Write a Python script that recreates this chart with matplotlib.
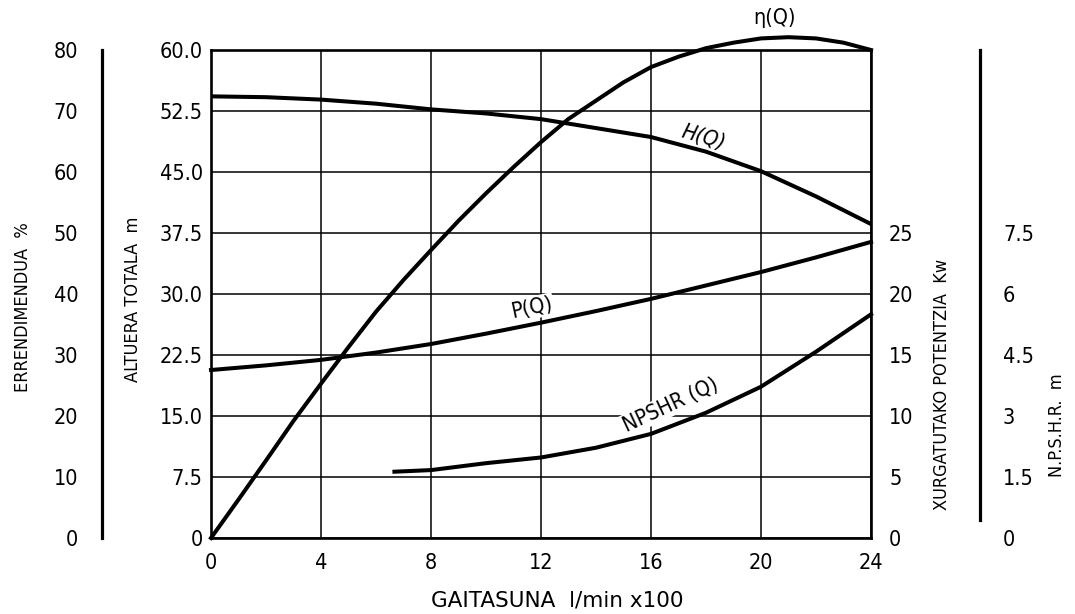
import numpy as np
import matplotlib
matplotlib.use("Agg")
import matplotlib.pyplot as plt

plt.rcParams['font.family'] = ['DejaVu Sans']
plt.rcParams['font.stretch'] = 'condensed'

# flow Q (l/min x100)
q_h = [0, 2, 4, 6, 8, 10, 12, 14, 16, 18, 20, 22, 24]
head = [54.3, 54.2, 53.9, 53.4, 52.7, 52.2, 51.5, 50.4, 49.3, 47.5, 45.1, 42.0, 38.6]

q_eta = list(range(0, 25))
eta = [0, 6.3, 12.7, 19.2, 25.3, 31.3, 37.1, 42.3, 47.2, 52.0, 56.5, 60.8, 64.9,
       68.7, 71.7, 74.7, 77.2, 78.9, 80.3, 81.2, 81.9, 82.1, 81.9, 81.2, 80.0]

q_p = [0, 2, 4, 6, 8, 10, 12, 14, 16, 18, 20, 22, 24]
power = [13.77, 14.15, 14.6, 15.2, 15.9, 16.75, 17.65, 18.6, 19.6, 20.7, 21.8, 23.0, 24.27]

q_n = [6.67, 8, 10, 12, 14, 16, 18, 20, 22, 24]
npsh = [1.63, 1.67, 1.84, 1.98, 2.22, 2.56, 3.08, 3.72, 4.58, 5.5]

x_ticks = [0, 4, 8, 12, 16, 20, 24]
h_ticks = [0, 7.5, 15, 22.5, 30, 37.5, 45, 52.5, 60]
h_labels = ["0", "7.5", "15.0", "22.5", "30.0", "37.5", "45.0", "52.5", "60.0"]
eta_ticks = [0, 10, 20, 30, 40, 50, 60, 70, 80]
p_ticks = [0, 5, 10, 15, 20, 25]
n_ticks = [0, 1.5, 3, 4.5, 6, 7.5]
n_labels = ["0", "1.5", "3", "4.5", "6", "7.5"]

W, H = 1075, 614
fig = plt.figure(figsize=(W / 100, H / 100), dpi=100)
x0, x1, y0, y1 = 211, 871, 50, 538
ax = fig.add_axes([x0 / W, 1 - y1 / H, (x1 - x0) / W, (y1 - y0) / H])

fs = 15.5
lw_curve = 2.9

ax.set_xlim(0, 24)
ax.set_ylim(0, 60)
ax.set_xticks(x_ticks)
ax.set_yticks(h_ticks)
ax.set_yticklabels(h_labels)
ax.grid(True, color='black', lw=1.1)
ax.tick_params(length=0, labelsize=fs)
ax.tick_params(axis='y', pad=6)
ax.tick_params(axis='x', pad=11)
for s in ax.spines.values():
    s.set_linewidth(1.9)
ax.plot(q_h, head, color='black', lw=lw_curve, solid_capstyle='butt', clip_on=False, zorder=4)

# efficiency axis (left)
ax_eta = ax.twinx()
ax_eta.set_ylim(0, 80)
for k in ['top', 'bottom', 'right']:
    ax_eta.spines[k].set_visible(False)
ax_eta.spines['left'].set_position(('axes', (102 - x0) / (x1 - x0)))
ax_eta.spines['left'].set_linewidth(2.3)
ax_eta.yaxis.set_ticks_position('left')
ax_eta.yaxis.set_label_position('left')
ax_eta.set_yticks(eta_ticks)
ax_eta.tick_params(length=0, labelsize=fs, pad=17)
ax_eta.plot(q_eta, eta, color='black', lw=lw_curve, clip_on=False, zorder=4)

# power axis (right)
ax_p = ax.twinx()
ax_p.set_ylim(0, 40)
for s in ax_p.spines.values():
    s.set_visible(False)
ax_p.set_yticks(p_ticks)
ax_p.tick_params(length=0, labelsize=fs, pad=13)
ax_p.plot(q_p, power, color='black', lw=lw_curve, clip_on=False, zorder=4)

# NPSHR axis (far right)
ax_n = ax.twinx()
ax_n.set_ylim(0, 12)
for k in ['top', 'bottom', 'left']:
    ax_n.spines[k].set_visible(False)
ax_n.spines['right'].set_position(('axes', (980 - x0) / (x1 - x0)))
ax_n.spines['right'].set_linewidth(2.3)
ax_n.spines['right'].set_bounds(0.45, 12)
ax_n.set_yticks(n_ticks)
ax_n.set_yticklabels(n_labels)
ax_n.tick_params(length=0, labelsize=fs, pad=16.5)
ax_n.plot(q_n, npsh, color='black', lw=lw_curve, clip_on=False, zorder=4)

# curve labels
box = dict(facecolor='white', edgecolor='none', pad=1)
ax.text(20.5, 63.9, "η(Q)", fontsize=fs, ha='center', va='center')
ax.text(17.9, 49.3, "H(Q)", fontsize=fs, style='italic', rotation=-16,
        ha='center', va='center', bbox=box, zorder=3)
ax.text(11.67, 28.3, "P(Q)", fontsize=fs, rotation=12,
        ha='center', va='center', bbox=box, zorder=3)
ax.text(16.7, 16.35, "NPSHR (Q)", fontsize=fs, rotation=25,
        ha='center', va='center', bbox=box, zorder=3)

# axis titles
lfs = 13
fig.text(23 / W, 1 - 307 / H, "ERRENDIMENDUA  %", rotation=90, fontsize=lfs, ha='center', va='center')
fig.text(133 / W, 1 - 299 / H, "ALTUERA TOTALA  m", rotation=90, fontsize=lfs, ha='center', va='center')
fig.text(942 / W, 1 - 384 / H, "XURGATUTAKO POTENTZIA  Kw", rotation=90, fontsize=lfs, ha='center', va='center')
fig.text(1057 / W, 1 - 425 / H, "N.P.S.H.R.  m", rotation=90, fontsize=lfs, ha='center', va='center')
fig.text(557 / W, 1 - 601 / H, "GAITASUNA  l/min x100", fontsize=15.5, fontstretch='normal',
         ha='center', va='center')

fig.savefig("out.png", dpi=100)
